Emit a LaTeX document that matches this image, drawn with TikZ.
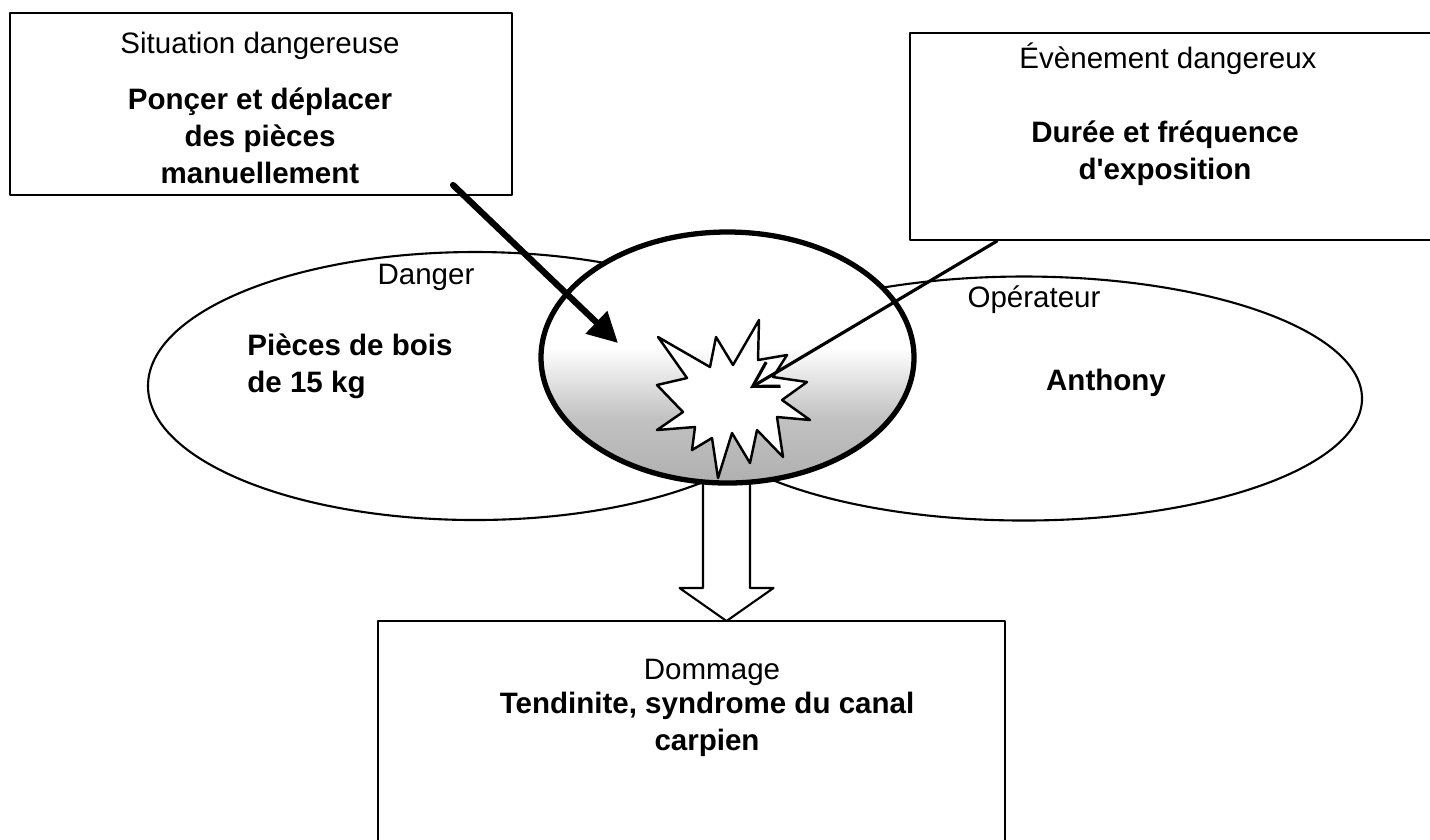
\documentclass[tikz,border=0pt]{standalone}
\usepackage{fontspec}
\setmainfont{Liberation Sans}
\usetikzlibrary{shapes.geometric,arrows.meta,calc}
\newcommand\taille{\fontsize{8.4pt}{10.5pt}\selectfont}
\pgfdeclareverticalshading{corefade}{100bp}{color(0bp)=(gray!62); color(25bp)=(gray!62); color(38bp)=(gray!48); color(52bp)=(white); color(100bp)=(white)}
\tikzset{
	cadre/.style={draw, line width=0.6pt, inner sep=0pt},
	bulle/.style={draw, ellipse, line width=0.6pt, inner sep=0pt},
	gras/.style={font=\taille\bfseries, align=center},
}
\begin{document}
\begin{tikzpicture}[font=\taille, line join=round, line cap=round, >=stealth, scale=1]
		\useasboundingbox (0,0) rectangle (14.3,-8.39);
		\node[cadre, minimum width=5.02cm, minimum height=1.82cm] (sit) at (2.61,-1.04) {};
		\node[cadre, minimum width=5.3cm, minimum height=2.07cm] (evt) at (11.75,-1.365) {};
		\node[cadre, minimum width=6.27cm, minimum height=2.4cm] (dmg) at (6.915,-7.41) {};
		\node[bulle, minimum width=6.54cm, minimum height=2.68cm] (dng) at (4.75,-3.86) {};
		\node[bulle, minimum width=6.76cm, minimum height=2.44cm] (opr) at (10.24,-3.985) {};
		\coordinate (tip) at (7.265,-6.21);
		\draw[line width=0.6pt, fill=white] ($(tip)+(-0.235,1.42)$) -- ($(tip)+(-0.235,0.33)$) -- ($(tip)+(-0.47,0.33)$) -- (tip)
			-- ($(tip)+(0.47,0.33)$) -- ($(tip)+(0.235,0.33)$) -- ($(tip)+(0.235,1.42)$);
		\node[bulle, line width=1.5pt, shade, shading=corefade, minimum width=3.73cm, minimum height=2.51cm] (core) at (7.275,-3.575) {};
		\draw[line width=0.7pt, fill=white] (6.58,-3.37) -- (7.10,-3.67) -- (7.16,-3.37) -- (7.33,-3.65) -- (7.59,-3.20) -- (7.58,-3.60)
			-- (7.87,-3.55) -- (7.73,-3.77) -- (8.07,-3.82) -- (7.82,-4.00) -- (8.10,-4.20) -- (7.77,-4.17) -- (7.83,-4.57)
			-- (7.57,-4.30) -- (7.50,-4.63) -- (7.32,-4.33) -- (7.18,-4.78) -- (7.12,-4.38) -- (6.92,-4.50) -- (6.95,-4.27)
			-- (6.57,-4.30) -- (6.83,-4.12) -- (6.57,-3.85) -- (6.87,-3.78) -- cycle;
		\coordinate (burst) at (7.33,-4.0);
		\coordinate (hitA) at (6.18,-3.43);
		\coordinate (hitB) at (7.50,-3.88);
		\draw[-{Triangle[length=3mm,width=3mm]}, line width=1.8pt] ([shift={(-0.6,0.11)}]sit.south east) -- (hitA);
		\draw[-{Straight Barb[length=2.4mm,width=2.8mm]}, line width=0.9pt] ([xshift=8.8mm]evt.south west) -- (hitB);
		\path
		node (sitT) at (2.6,-0.46) {Situation dangereuse}
		node[gras] (sitB) at (2.6,-1.36) {Ponçer et déplacer\\des pièces\\manuellement}
		node (evtT) at (11.68,-0.59) {Évènement dangereux}
		node[gras] (evtB) at (11.65,-1.53) {Durée et fréquence\\d\textquotesingle exposition}
		node (dngT) at (4.26,-2.77) {Danger}
		node[gras, align=left, anchor=west] (dngB) at (2.35,-3.66) {Pièces de bois\\de 15 kg}
		node (oprT) at (10.34,-3.00) {Opérateur}
		node[gras] (oprB) at (11.06,-3.83) {Anthony}
		node (dmgT) at (7.12,-6.72) {Dommage}
		node[gras] (dmgB) at (7.07,-7.24) {Tendinite, syndrome du canal\\carpien};
	\end{tikzpicture}
\end{document}
